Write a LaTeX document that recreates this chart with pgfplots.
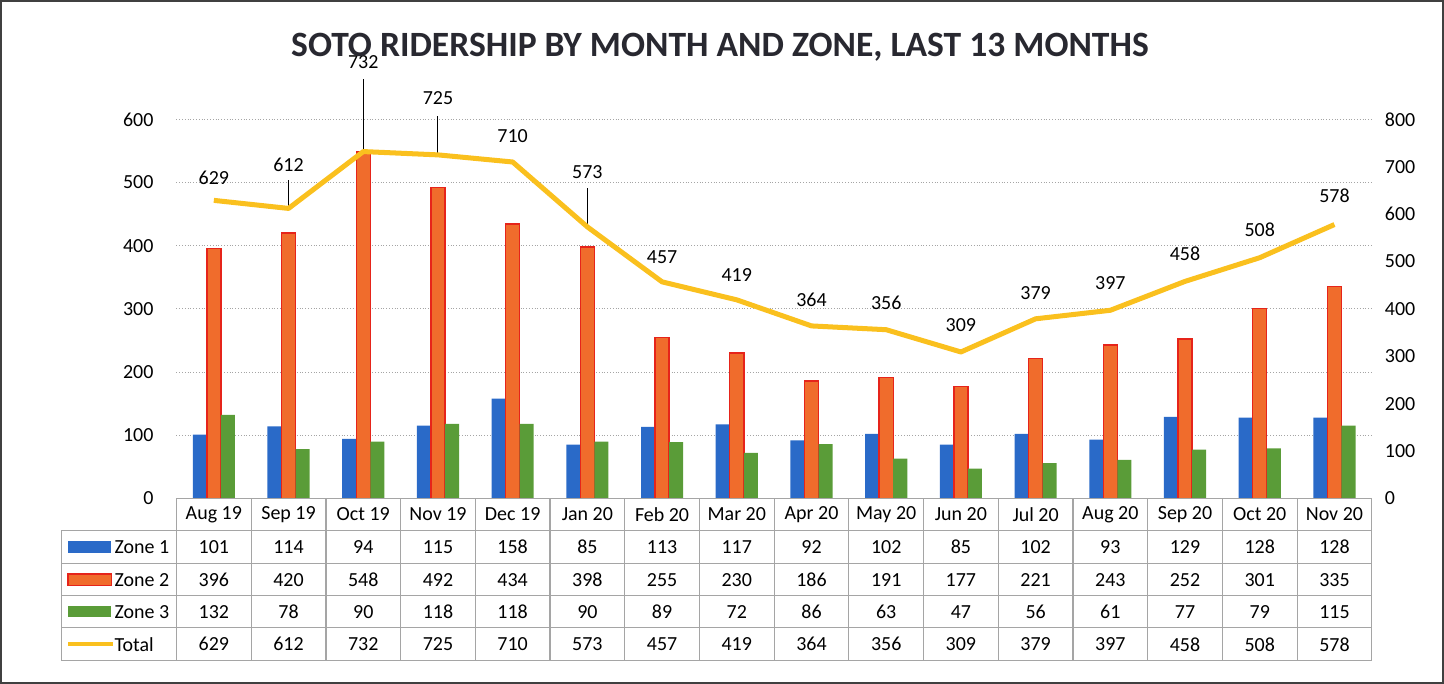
\documentclass[border=0pt]{standalone}
\usepackage{fontspec}
\setmainfont{Carlito}
\usepackage{pgfplots}
\pgfplotsset{compat=1.18}
\usepackage{pgfplotstable}

\definecolor{zoneA}{RGB}{42,106,200}
\definecolor{zoneB}{RGB}{240,108,44}
\definecolor{zoneBedge}{RGB}{230,36,26}
\definecolor{zoneC}{RGB}{90,156,56}
\definecolor{totalc}{RGB}{250,192,30}
\definecolor{gridc}{RGB}{165,165,165}
\definecolor{titlec}{RGB}{40,40,48}

% x, zones, total, label height (right axis), leader length (right axis)
\pgfplotstableread{
x z1 z2 z3 t ly lead
0 101 396 132 629 677 0
1 114 420 78 612 703 59
2 94 548 90 732 921 153
3 115 492 118 725 844 83
4 158 434 118 710 764 0
5 85 398 90 573 688 83
6 113 255 89 457 510 0
7 117 230 72 419 472 0
8 92 186 86 364 419 0
9 102 191 63 356 413 0
10 85 177 47 309 366 0
11 102 221 56 379 434 0
12 93 243 61 397 455 0
13 129 252 77 458 516 0
14 128 301 79 508 567 0
15 128 335 115 578 639 0
}\rides

\begin{document}
\begin{tikzpicture}
\pgfplotsset{
  chartbase/.style={
    scale only axis, width=596bp, height=189bp,
    xmin=-0.5, xmax=15.5, ymin=0,
    axis line style={draw=none}, major tick length=0pt,
    clip=false,
    tick label style={font=\fontsize{10}{12}\selectfont},
    /pgf/number format/assume math mode=true,
    every node near coord/.append style={font=\fontsize{10}{12}\selectfont, text=black},
  },
}
\begin{axis}[chartbase,
    ymax=600, ytick={0,100,...,600},
    xtick={0,...,15},
    xticklabels={Aug 19,Sep 19,Oct 19,Nov 19,Dec 19,Jan 20,Feb 20,Mar 20,Apr 20,May 20,Jun 20,Jul 20,Aug 20,Sep 20,Oct 20,Nov 20},
    xticklabel style={anchor=center, yshift=-8bp},
    yticklabel style={xshift=-8bp},
    ymajorgrids, grid style={gridc, densely dotted, line width=0.5bp},
  ]
  \addplot[ybar, bar width=7bp, bar shift=-7bp, fill=zoneA, draw=none] table[x=x, y=z1]{\rides};
  \addplot[ybar, bar width=7bp, bar shift=0bp, fill=zoneB, draw=zoneBedge, line width=0.7bp] table[x=x, y=z2]{\rides};
  \addplot[ybar, bar width=7bp, bar shift=7bp, fill=zoneC, draw=none] table[x=x, y=z3]{\rides};

  % data table rows
  \addplot[draw=none, mark=none, nodes near coords, nodes near coords align={center}, point meta=explicit symbolic] table[x=x, y expr=-77, meta=z1]{\rides};
  \addplot[draw=none, mark=none, nodes near coords, nodes near coords align={center}, point meta=explicit symbolic] table[x=x, y expr=-128.6, meta=z2]{\rides};
  \addplot[draw=none, mark=none, nodes near coords, nodes near coords align={center}, point meta=explicit symbolic] table[x=x, y expr=-179.4, meta=z3]{\rides};
  \addplot[draw=none, mark=none, nodes near coords, nodes near coords align={center}, point meta=explicit symbolic] table[x=x, y expr=-231, meta=t]{\rides};

  % table grid
  \draw[gridc, line width=0.6bp] (axis cs:-0.5,0) -- (axis cs:15.5,0);
  \pgfplotsinvokeforeach{-50.8,-103.2,-154,-204.8,-257}{
    \draw[gridc, line width=0.6bp] (axis cs:-2.04,#1) -- (axis cs:15.5,#1);
  }
  \pgfplotsinvokeforeach{-0.5,0.5,1.5,2.5,3.5,4.5,5.5,6.5,7.5,8.5,9.5,10.5,11.5,12.5,13.5,14.5,15.5}{
    \draw[gridc, line width=0.6bp] (axis cs:#1,0) -- (axis cs:#1,-257);
  }
  \draw[gridc, line width=0.6bp] (axis cs:-2.04,-50.8) -- (axis cs:-2.04,-257);

  % legend keys in the first column
  \fill[zoneA] (axis cs:-1.95,-86) rectangle (axis cs:-1.37,-68);
  \filldraw[fill=zoneB, draw=zoneBedge, line width=0.7bp] (axis cs:-1.95,-137.6) rectangle (axis cs:-1.37,-119.6);
  \fill[zoneC] (axis cs:-1.95,-188.4) rectangle (axis cs:-1.37,-170.4);
  \draw[totalc, line width=2bp] (axis cs:-1.95,-231) -- (axis cs:-1.35,-231);
  \node[anchor=west, inner sep=1bp, font=\fontsize{10}{12}\selectfont] at (axis cs:-1.36,-77) {Zone 1};
  \node[anchor=west, inner sep=1bp, font=\fontsize{10}{12}\selectfont] at (axis cs:-1.36,-128.6) {Zone 2};
  \node[anchor=west, inner sep=1bp, font=\fontsize{10}{12}\selectfont] at (axis cs:-1.36,-179.4) {Zone 3};
  \node[anchor=west, inner sep=1bp, font=\fontsize{10}{12}\selectfont] at (axis cs:-1.36,-231) {Total};
\end{axis}

\begin{axis}[chartbase,
    ymax=800, ytick={0,100,...,800},
    axis y line*=right, axis x line=none,
    yticklabel style={xshift=3bp},
  ]
  \addplot[draw=none, mark=none, error bars/.cd, y dir=plus, y explicit, error mark=none,
    error bar style={draw=black, line width=0.5bp}] table[x=x, y=t, y error=lead]{\rides};
  \addplot[totalc, line width=2.5bp, mark=none, line join=round] table[x=x, y=t]{\rides};
  \addplot[draw=none, mark=none, nodes near coords, nodes near coords align={center}, point meta=explicit symbolic] table[x=x, y=ly, meta=t]{\rides};
\end{axis}

\node[font=\bfseries\fontsize{17.8}{21}\selectfont, text=titlec] at (271bp,225bp) {SOTO RIDERSHIP BY MONTH AND ZONE, LAST 13 MONTHS};
\draw[black!75, line width=1bp] (-87.5bp,-92bp) rectangle (631.5bp,248bp);
\end{tikzpicture}
\end{document}
